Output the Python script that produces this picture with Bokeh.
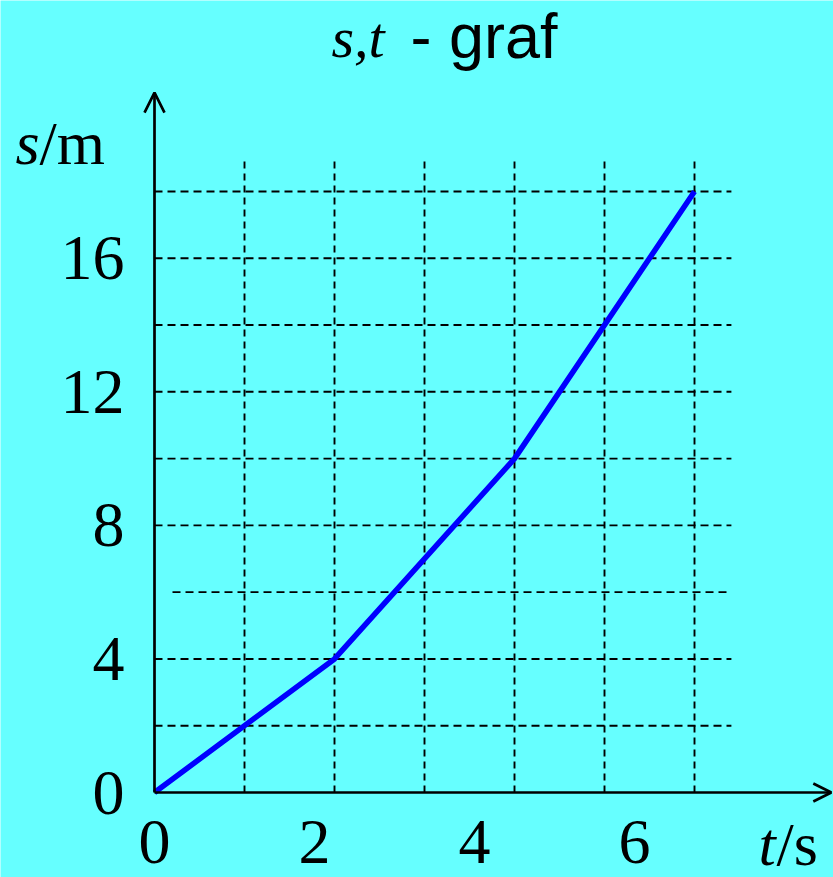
from bokeh.plotting import figure
from bokeh.models import LinearAxis, FixedTicker, Range1d, Arrow, OpenHead, Label
from bokeh.embed import file_html
from bokeh.resources import INLINE

# ---------------- data ----------------
t_values = [0, 2, 4, 6]          # time (s) at the corners of the graph
s_values = [0, 4, 10, 18]        # distance (m)
t_grid = [1, 2, 3, 4, 5, 6]      # vertical grid lines
s_grid = [2, 4, 6, 8, 10, 12, 14, 16, 18]  # horizontal grid lines
t_tick_labels = [0, 2, 4, 6]
s_tick_labels = [0, 4, 8, 12, 16]

# ---------------- layout / style ----------------
BG = "#66FFFF"
W, H = 833, 877
X0_PX, Y0_PX = 154, 85          # origin, px from left / bottom of the canvas
PX_T, PX_S = 90.0, 33.39         # px per unit
LAB_SCALE = 1.125                # tick-label scale of the t axis
SERIF = "Liberation Serif"
SANS = "Liberation Sans"

x_range = Range1d(-X0_PX / PX_T, (W - X0_PX) / PX_T)
y_range = Range1d(-Y0_PX / PX_S, (H - Y0_PX) / PX_S)

p = figure(width=W, height=H, x_range=x_range, y_range=y_range,
           x_axis_type=None, y_axis_type=None, title=None,
           toolbar_location=None, output_backend="svg",
           min_border_left=0, min_border_right=0, min_border_top=0, min_border_bottom=0)
p.outline_line_color = None
p.background_fill_color = BG
p.border_fill_color = BG
p.extra_x_ranges = {"lab": Range1d(x_range.start * LAB_SCALE, x_range.end * LAB_SCALE)}

# ---------------- grid ----------------
H_END = 6.41
h_x0 = [0.2 if s == 6 else 0 for s in s_grid]
h_x1 = [6.36 if s == 6 else H_END for s in s_grid]
p.segment(x0=h_x0, y0=s_grid, x1=h_x1, y1=s_grid,
          line_color="black", line_width=1.9, line_dash="8 5")
V_TOP = 19.05
p.segment(x0=t_grid, y0=[0] * len(t_grid), x1=t_grid, y1=[V_TOP] * len(t_grid),
          line_color="black", line_width=1.9, line_dash="7 5")

# ---------------- axes (lines with arrows) ----------------
p.add_layout(Arrow(end=OpenHead(size=20, line_width=2.7, line_color="black"),
                   x_start=0, y_start=0, x_end=0, y_end=20.96,
                   line_width=2.7, line_color="black"))
p.add_layout(Arrow(end=OpenHead(size=18, line_width=2.7, line_color="black"),
                   x_start=0, y_start=0, x_end=7.52, y_end=0,
                   line_width=2.7, line_color="black"))

# ---------------- data line ----------------
p.line(t_values, s_values, line_color="#0000FF", line_width=5.5)

# ---------------- tick labels via axes ----------------
yaxis = LinearAxis(fixed_location=0, ticker=FixedTicker(ticks=s_tick_labels),
                   axis_line_color=None, major_tick_line_color=None,
                   minor_tick_line_color=None, major_tick_in=0, major_tick_out=0,
                   major_label_standoff=30,
                   major_label_text_font=SERIF, major_label_text_font_size="64px",
                   major_label_text_color="black")
p.add_layout(yaxis, "left")

xaxis = LinearAxis(x_range_name="lab", fixed_location=0,
                   ticker=FixedTicker(ticks=t_tick_labels),
                   axis_line_color=None, major_tick_line_color=None,
                   minor_tick_line_color=None, major_tick_in=0, major_tick_out=0,
                   major_label_standoff=28,
                   major_label_text_font=SERIF, major_label_text_font_size="64px",
                   major_label_text_color="black")
p.add_layout(xaxis, "below")

# ---------------- texts ----------------
def lab(text, x, y, font, size, style="normal"):
    p.add_layout(Label(text=text, x=x, y=y, x_units="screen", y_units="screen",
                       text_font=font, text_font_size=size, text_font_style=style,
                       text_align="left", text_baseline="alphabetic",
                       text_color="black"))

# title
lab("s,t", 331, 840, SERIF, "58px", "italic")
lab("- graf", 410, 842, SANS, "63px")
# axis names
lab("s", 15, 735, SERIF, "62px", "italic")
lab("/m", 39, 735, SERIF, "62px")
lab("t", 758, 34, SERIF, "62px", "italic")
lab("/s", 776, 34, SERIF, "62px")

open("out.html", "w").write(file_html(p, INLINE))
